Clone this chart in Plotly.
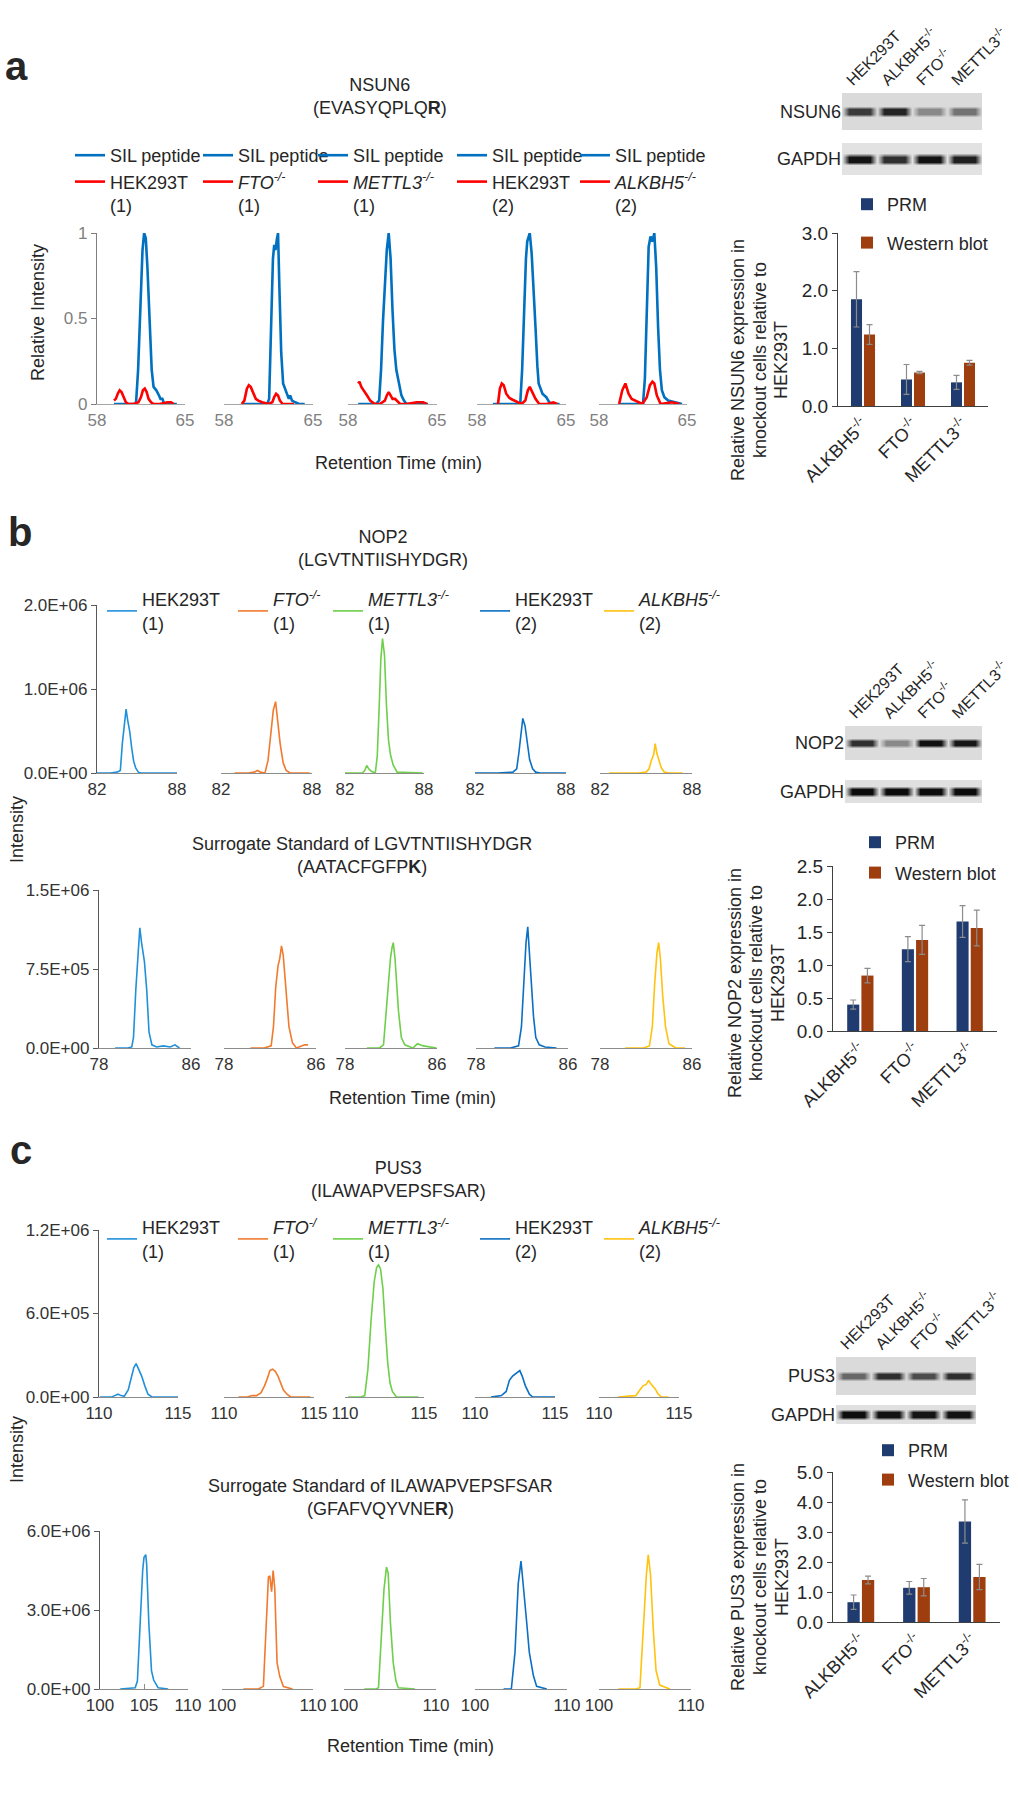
import plotly.graph_objects as go

W, H = 1018, 1800
FONT = "Liberation Sans, Arial, Helvetica, sans-serif"
TXT = "#262626"

# ------------------------------------------------------------------ data
# ---- panel a : NSUN6 (relative intensity), SIL peptide + endogenous
a_sil_rt_1 = [59.35, 60.5, 61.1, 61.27, 61.46, 61.62, 61.75, 61.88, 62.01, 62.2, 62.35, 62.5, 62.72, 62.93, 63.05, 63.2, 63.35, 63.6, 64.35]
a_sil_int_1 = [0, 0, 0, 0.2, 0.6, 0.9, 1.0, 0.97, 0.8, 0.45, 0.2, 0.1, 0.08, 0.05, 0.03, 0.03, 0.0, 0, 0]
a_smp_rt_1 = [59.35, 59.5, 59.65, 59.8, 59.95, 60.1, 60.3, 60.5, 60.9, 61.3, 61.5, 61.65, 61.8, 61.95, 62.1, 62.3, 62.5, 63.0, 63.6, 63.9, 64.1]
a_smp_int_1 = [0.02, 0.03, 0.06, 0.08, 0.07, 0.04, 0.01, 0.0, 0.0, 0.01, 0.04, 0.08, 0.09, 0.07, 0.03, 0.01, 0.0, 0.0, 0.01, 0.01, 0.0]

a_sil_rt_2 = [59.4, 60.5, 61.4, 61.55, 61.7, 61.85, 61.95, 62.05, 62.15, 62.25, 62.35, 62.5, 62.65, 62.85, 63.0, 63.1, 63.2, 63.35, 63.6, 63.9, 64.35]
a_sil_int_2 = [0, 0, 0, 0.03, 0.4, 0.85, 0.93, 0.9, 0.96, 1.0, 0.7, 0.3, 0.12, 0.08, 0.05, 0.03, 0.05, 0.02, 0.01, 0, 0]
a_smp_rt_2 = [59.4, 59.6, 59.8, 59.95, 60.1, 60.3, 60.5, 60.7, 61.0, 61.5, 61.8, 61.95, 62.1, 62.25, 62.4, 62.6, 63.0, 63.5]
a_smp_int_2 = [0.0, 0.02, 0.09, 0.11, 0.1, 0.06, 0.03, 0.02, 0.01, 0.0, 0.01, 0.04, 0.06, 0.05, 0.02, 0.0, 0.0, 0.0]

a_sil_rt_3 = [58.8, 59.5, 60.2, 60.45, 60.6, 60.75, 60.9, 61.05, 61.2, 61.35, 61.5, 61.65, 61.8, 62.0, 62.2, 62.4, 62.6, 63.0, 63.5, 64.3]
a_sil_int_3 = [0, 0, 0, 0.02, 0.2, 0.48, 0.72, 0.9, 1.0, 0.85, 0.55, 0.32, 0.2, 0.12, 0.05, 0.02, 0.0, 0, 0, 0]
a_smp_rt_3 = [58.8, 58.9, 59.05, 59.25, 59.5, 59.75, 60.1, 60.5, 60.9, 61.05, 61.2, 61.35, 61.5, 61.7, 62.1, 62.6, 63.4, 63.9, 64.2]
a_smp_int_3 = [0.12, 0.13, 0.1, 0.08, 0.05, 0.02, 0.0, 0.0, 0.02, 0.05, 0.07, 0.05, 0.03, 0.03, 0.0, 0.0, 0.01, 0.01, 0.0]

a_sil_rt_4 = [59.25, 60.5, 61.4, 61.55, 61.7, 61.85, 61.95, 62.05, 62.15, 62.3, 62.45, 62.6, 62.75, 62.85, 63.0, 63.15, 63.3, 63.45, 63.6, 63.8, 64.5]
a_sil_int_4 = [0, 0, 0, 0.2, 0.55, 0.85, 0.95, 0.98, 1.0, 0.88, 0.7, 0.45, 0.22, 0.12, 0.09, 0.06, 0.05, 0.04, 0.02, 0, 0]
a_smp_rt_4 = [59.65, 59.8, 59.95, 60.1, 60.3, 60.55, 60.8, 61.1, 61.5, 61.8, 62.0, 62.15, 62.35, 62.6, 62.9, 63.5, 64.0, 64.3]
a_smp_int_4 = [0, 0.09, 0.12, 0.11, 0.06, 0.035, 0.025, 0.015, 0.0, 0.02, 0.08, 0.1, 0.07, 0.03, 0.0, 0.0, 0.01, 0.0]

a_sil_rt_5 = [59.6, 60.5, 61.5, 61.65, 61.8, 61.95, 62.1, 62.25, 62.4, 62.55, 62.7, 62.85, 63.0, 63.2, 63.5, 64.0, 64.6]
a_sil_int_5 = [0, 0, 0, 0.15, 0.6, 0.92, 0.98, 0.95, 1.0, 0.8, 0.45, 0.2, 0.08, 0.04, 0.02, 0.01, 0]
a_smp_rt_5 = [59.6, 59.85, 60.1, 60.35, 60.6, 60.9, 61.45, 61.8, 62.05, 62.25, 62.4, 62.6, 62.9, 63.8, 64.4]
a_smp_int_5 = [0, 0.08, 0.12, 0.06, 0.03, 0.02, 0.0, 0.04, 0.11, 0.13, 0.12, 0.05, 0.0, 0.01, 0.0]

# ---- panel b : NOP2 target peptide (intensity)
b_tgt_rt_1 = [82.0, 83.0, 83.5, 83.75, 83.9, 84.05, 84.18, 84.3, 84.45, 84.6, 84.75, 84.9, 85.1, 85.3, 86.5, 88.0]
b_tgt_int_1 = [0, 0, 1e4, 3e4, 3.5e5, 6.2e5, 7.6e5, 6.3e5, 5.0e5, 3.0e5, 1.4e5, 6e4, 1e4, 0, 0, 0]
b_tgt_rt_2 = [82.9, 83.8, 84.2, 84.4, 84.6, 84.9, 85.1, 85.3, 85.45, 85.6, 85.75, 85.9, 86.1, 86.3, 86.55, 87.85]
b_tgt_int_2 = [0, 0, 1e4, 3e4, 1e4, 0, 1.5e5, 5.0e5, 7.5e5, 8.5e5, 5.8e5, 3.5e5, 1.2e5, 3e4, 0, 0]
b_tgt_rt_3 = [82.0, 83.3, 83.5, 83.65, 83.8, 84.0, 84.3, 84.45, 84.6, 84.72, 84.85, 85.0, 85.15, 85.3, 85.45, 85.65, 85.95, 86.5, 87.9]
b_tgt_int_3 = [0, 0, 3e4, 9e4, 5e4, 2e4, 0, 2e5, 8e5, 1.35e6, 1.6e6, 1.4e6, 8e5, 4e5, 2.2e5, 1e5, 1e4, 5e3, 0]
b_tgt_rt_4 = [82.0, 83.5, 84.5, 84.75, 84.9, 85.05, 85.15, 85.3, 85.45, 85.6, 85.8, 86.0, 86.3, 88.0]
b_tgt_int_4 = [0, 0, 1e4, 5e4, 2.5e5, 5.2e5, 6.5e5, 5.6e5, 3.5e5, 1.6e5, 5e4, 1e4, 0, 0]
b_tgt_rt_5 = [82.6, 84.5, 85.0, 85.2, 85.35, 85.5, 85.6, 85.7, 85.85, 86.0, 86.2, 86.5, 87.4]
b_tgt_int_5 = [0, 0, 1e4, 5e4, 1.5e5, 2.2e5, 3.5e5, 2.4e5, 1.5e5, 6e4, 1e4, 0, 0]

# ---- panel b : surrogate standard AATACFGFPK
b_std_rt_1 = [79.4, 80.5, 80.85, 81.0, 81.2, 81.4, 81.55, 81.7, 81.85, 81.95, 82.15, 82.35, 82.6, 83.0, 83.6, 84.2, 84.6, 85.0]
b_std_int_1 = [0, 0, 1e4, 1e5, 5.5e5, 9.3e5, 1.14e6, 1.0e6, 8.8e5, 8.2e5, 5.5e5, 1.5e5, 3e4, 1e4, 2e4, 1e4, 3e4, 0]
b_std_rt_2 = [80.3, 81.5, 82.1, 82.3, 82.5, 82.7, 82.85, 83.0, 83.15, 83.3, 83.45, 83.65, 83.95, 84.3, 84.75, 85.0, 85.3]
b_std_int_2 = [0, 0, 2e4, 2e5, 5.8e5, 7.8e5, 8.5e5, 9.7e5, 8.8e5, 7e5, 4.5e5, 2e5, 5e4, 0, 2e4, 3e4, 3e4]
b_std_rt_3 = [79.9, 81.0, 81.35, 81.55, 81.75, 81.95, 82.1, 82.2, 82.35, 82.5, 82.65, 82.9, 83.2, 83.9, 84.3, 84.8, 85.95]
b_std_int_3 = [0, 0, 3e4, 3e5, 6.5e5, 8.5e5, 9.6e5, 1.0e6, 8.5e5, 6e5, 3.5e5, 1e5, 3e4, 0, 4e4, 2e4, 0]
b_std_rt_4 = [79.6, 81.0, 81.7, 81.95, 82.15, 82.35, 82.5, 82.65, 82.8, 83.0, 83.2, 83.5, 84.0, 85.0]
b_std_int_4 = [0, 0, 2e4, 2e5, 6e5, 1.0e6, 1.15e6, 9e5, 6e5, 3e5, 1e5, 3e4, 1e4, 0]
b_std_rt_5 = [80.2, 81.8, 82.3, 82.55, 82.75, 82.95, 83.1, 83.25, 83.45, 83.7, 84.0, 84.6, 85.4]
b_std_int_5 = [0, 0, 2e4, 2e5, 6e5, 9e5, 1.0e6, 8.5e5, 5e5, 2e5, 4e4, 0, 0]

# ---- panel c : PUS3 target peptide
c_tgt_rt_1 = [110.05, 110.8, 111.0, 111.2, 111.4, 111.6, 111.85, 112.05, 112.2, 112.35, 112.5, 112.7, 112.9, 113.1, 113.35, 115.0]
c_tgt_int_1 = [0, 0, 1e4, 2e4, 1e4, 5e3, 5e4, 1.5e5, 2.1e5, 2.4e5, 2.0e5, 1.5e5, 8e4, 2e4, 0, 0]
c_tgt_rt_2 = [110.8, 111.3, 111.55, 111.8, 112.05, 112.25, 112.4, 112.55, 112.7, 112.85, 113.0, 113.15, 113.3, 113.5, 113.7, 114.8]
c_tgt_int_2 = [0, 0, 1e4, 1e4, 3e4, 8e4, 1.3e5, 1.9e5, 2.0e5, 1.85e5, 1.5e5, 1.0e5, 5e4, 2e4, 0, 0]
c_tgt_rt_3 = [110.2, 111.0, 111.25, 111.45, 111.65, 111.85, 112.0, 112.12, 112.25, 112.4, 112.55, 112.7, 112.85, 113.0, 113.25, 114.65]
c_tgt_int_3 = [0, 0, 1e4, 2e5, 5.5e5, 8.3e5, 9.3e5, 9.5e5, 9.2e5, 7.8e5, 5e5, 2.5e5, 1e5, 4e4, 0, 0]
c_tgt_rt_4 = [111.0, 111.65, 111.95, 112.15, 112.35, 112.55, 112.8, 112.95, 113.15, 113.4, 113.6, 115.0]
c_tgt_int_4 = [0, 1e4, 4e4, 1.2e5, 1.5e5, 1.7e5, 1.9e5, 1.5e5, 8e4, 2e4, 0, 0]
c_tgt_rt_5 = [111.2, 112.3, 112.55, 112.75, 112.95, 113.1, 113.2, 113.35, 113.5, 113.7, 113.9, 114.35]
c_tgt_int_5 = [0, 1e4, 5e4, 8e4, 9e4, 1.2e5, 1.0e5, 8e4, 6e4, 2e4, 0, 0]

# ---- panel c : surrogate standard GFAFVQYVNER
c_std_rt_1 = [102.3, 103.5, 104.0, 104.25, 104.55, 104.85, 105.0, 105.2, 105.3, 105.55, 105.85, 106.1, 106.6, 107.75]
c_std_int_1 = [0, 5e4, 5e4, 3e5, 2.5e6, 4.5e6, 5.0e6, 5.1e6, 4.75e6, 2.5e6, 7e5, 3.4e5, 5e4, 0]
c_std_rt_2 = [102.35, 104.0, 104.55, 104.9, 105.1, 105.25, 105.45, 105.62, 105.8, 106.05, 106.35, 106.75, 107.75]
c_std_int_2 = [0, 0, 1e5, 2.5e6, 4.25e6, 4.3e6, 3.7e6, 4.5e6, 3.8e6, 1.0e6, 4.7e5, 9e4, 0]
c_std_rt_3 = [102.2, 103.5, 103.75, 104.05, 104.35, 104.62, 104.8, 105.05, 105.35, 105.65, 105.9, 107.7]
c_std_int_3 = [0, 0, 5e4, 2.0e6, 3.8e6, 4.63e6, 4.4e6, 2.5e6, 1.0e6, 3e5, 5e4, 0]
c_std_rt_4 = [103.1, 103.95, 104.35, 104.7, 105.0, 105.25, 105.6, 105.9, 106.35, 106.7, 107.8]
c_std_int_4 = [0, 0, 1.4e6, 4.0e6, 4.86e6, 4.0e6, 2.6e6, 1.4e6, 5e5, 1e5, 0]
c_std_rt_5 = [102.1, 104.0, 104.45, 104.8, 105.15, 105.35, 105.6, 105.9, 106.2, 106.6, 107.7]
c_std_int_5 = [0, 0, 5e4, 2.25e6, 4.34e6, 5.1e6, 4.34e6, 2.25e6, 7e5, 1.5e5, 0]

# ---- sample labels
a_sample_names = ["HEK293T<br>(1)", "<i>FTO<sup>-/-</sup></i><br>(1)", "<i>METTL3<sup>-/-</sup></i><br>(1)",
                  "HEK293T<br>(2)", "<i>ALKBH5<sup>-/-</sup></i><br>(2)"]
b_sample_names = ["HEK293T<br>(1)", "<i>FTO<sup>-/-</sup></i><br>(1)", "<i>METTL3<sup>-/-</sup></i><br>(1)",
                  "HEK293T<br>(2)", "<i>ALKBH5<sup>-/-</sup></i><br>(2)"]
c_sample_names = ["HEK293T<br>(1)", "<i>FTO<sup>-/</sup></i><br>(1)", "<i>METTL3<sup>-/-</sup></i><br>(1)",
                  "HEK293T<br>(2)", "<i>ALKBH5<sup>-/-</sup></i><br>(2)"]

# ---- western blot lanes and relative band intensities (0 = no band, 1 = saturated)
lane_labels = ["HEK293T", "ALKBH5<sup>-/-</sup>", "FTO<sup>-/-</sup>", "METTL3<sup>-/-</sup>"]
lane_index = [0, 1, 2, 3]
nsun6_band = [0.80, 0.90, 0.45, 0.55]
gapdh_a_band = [0.97, 0.85, 0.98, 0.92]
nop2_band = [0.85, 0.45, 0.98, 0.95]
gapdh_b_band = [1.0, 1.0, 1.0, 1.0]
pus3_band = [0.6, 0.85, 0.72, 0.85]
gapdh_c_band = [1.0, 0.98, 0.97, 0.98]

# ---- bar charts (relative expression, knockout / HEK293T)
bar_categories = ["ALKBH5<sup>-/-</sup>", "FTO<sup>-/-</sup>", "METTL3<sup>-/-</sup>"]
nsun6_prm = [1.85, 0.46, 0.41]
nsun6_prm_err = [0.48, 0.26, 0.12]
nsun6_wb = [1.24, 0.58, 0.75]
nsun6_wb_err = [0.17, 0.02, 0.04]
nop2_prm = [0.40, 1.24, 1.66]
nop2_prm_err = [0.07, 0.19, 0.24]
nop2_wb = [0.84, 1.38, 1.56]
nop2_wb_err = [0.11, 0.22, 0.27]
pus3_prm = [0.66, 1.14, 3.35]
pus3_prm_err = [0.24, 0.21, 0.72]
pus3_wb = [1.40, 1.16, 1.50]
pus3_wb_err = [0.13, 0.29, 0.42]

# ------------------------------------------------------------------ helpers
def px(x):
    return x / W


def py(y):
    return 1 - y / H


fig = go.Figure()
layout = {}
annotations = []
counter = {"ax": 0, "lg": 0}


def new_axis():
    counter["ax"] += 1
    n = counter["ax"]
    return "" if n == 1 else str(n)


def new_legend(**kw):
    counter["lg"] += 1
    n = counter["lg"]
    name = "legend" if n == 1 else f"legend{n}"
    base = dict(bgcolor="rgba(0,0,0,0)", borderwidth=0, xanchor="left", yanchor="top",
                font=dict(family=FONT, size=18, color=TXT), itemwidth=30, tracegroupgap=0)
    base.update(kw)
    layout[name] = base
    return name


def ann(text, x, y, size=18, xanchor="center", yanchor="middle", angle=0, color=TXT):
    annotations.append(dict(text=text, x=px(x), y=py(y), xref="paper", yref="paper",
                            xanchor=xanchor, yanchor=yanchor, showarrow=False, textangle=angle,
                            font=dict(family=FONT, size=size, color=color)))


def chrom_axes(xdom, ydom, xr, yr, xticks, yticks, yticktext, show_y, tick_col, line_col, yline_col):
    s = new_axis()
    layout[f"xaxis{s}"] = dict(domain=[px(xdom[0]), px(xdom[1])], range=xr, anchor=f"y{s}",
                              showline=True, linecolor=line_col, linewidth=1.3, ticks="inside",
                              ticklen=5, tickcolor=line_col, tickvals=xticks, showgrid=False,
                              zeroline=False, tickfont=dict(family=FONT, size=17, color=tick_col),
                              fixedrange=True, automargin=False)
    ydict = dict(domain=[py(ydom[1]), py(ydom[0])], range=yr, anchor=f"x{s}", showgrid=False,
                 zeroline=False, fixedrange=True, automargin=False)
    if show_y:
        ydict.update(showline=True, linecolor=yline_col, linewidth=1.3, ticks="outside", ticklen=5,
                     tickcolor=yline_col, tickvals=yticks, ticktext=yticktext,
                     tickfont=dict(family=FONT, size=17, color=tick_col))
    else:
        ydict.update(visible=False)
    layout[f"yaxis{s}"] = ydict
    return s


def line_trace(s, x, y, color, width, name=None, legend=None):
    fig.add_trace(go.Scatter(x=x, y=y, mode="lines", line=dict(color=color, width=width),
                             xaxis=f"x{s}", yaxis=f"y{s}", name=name or "",
                             showlegend=legend is not None, legend=legend or "legend",
                             hoverinfo="skip"))


# ------------------------------------------------------------------ colours
BLUE_A = "#0070C0"
RED_A = "#FF0000"
HEK1 = "#2190DA"
HEK2 = "#0B70C4"
ORANGE = "#F07A2E"
GREEN = "#6ECF4A"
YELLOW = "#FFC20E"
PRM_C = "#1F3B70"
WB_C = "#9E3D0E"
GRAY_TICK = "#808080"

# ------------------------------------------------------------------ panel a chromatograms
A_DOMS = [(97, 185), (224, 313), (348, 437), (477, 566), (599, 687)]
A_Y = (233, 404)
A_LEG_X = [70, 198, 313, 452, 575]
a_sil = [(a_sil_rt_1, a_sil_int_1), (a_sil_rt_2, a_sil_int_2), (a_sil_rt_3, a_sil_int_3),
         (a_sil_rt_4, a_sil_int_4), (a_sil_rt_5, a_sil_int_5)]
a_smp = [(a_smp_rt_1, a_smp_int_1), (a_smp_rt_2, a_smp_int_2), (a_smp_rt_3, a_smp_int_3),
         (a_smp_rt_4, a_smp_int_4), (a_smp_rt_5, a_smp_int_5)]
for k in range(5):
    s = chrom_axes(A_DOMS[k], A_Y, [58, 65], [0, 1], [58, 65], [0, 0.5, 1], ["0", "0.5", "1"],
                   k == 0, GRAY_TICK, "#a6a6a6", "#7f7f7f")
    lg = new_legend(x=px(A_LEG_X[k]), y=py(137), valign="top")
    line_trace(s, a_sil[k][0], a_sil[k][1], BLUE_A, 2.6, "SIL peptide", lg)
    line_trace(s, a_smp[k][0], a_smp[k][1], RED_A, 2.6, a_sample_names[k], lg)

# ------------------------------------------------------------------ panel b / c chromatograms
BC_COLORS = [HEK1, ORANGE, GREEN, HEK2, YELLOW]
BC_LEG_X = [102, 233, 328, 475, 599]

B1_DOMS = [(97, 177), (221, 312), (345, 424), (475, 566), (600, 692)]
B2_DOMS = [(99, 191), (224, 316), (345, 437), (476, 568), (600, 692)]
C1_DOMS = [(99, 178), (224, 314), (345, 424), (475, 555), (599, 679)]
C2_DOMS = [(100, 188), (222, 313), (344, 436), (475, 567), (599, 691)]

b_tgt = [(b_tgt_rt_1, b_tgt_int_1), (b_tgt_rt_2, b_tgt_int_2), (b_tgt_rt_3, b_tgt_int_3),
         (b_tgt_rt_4, b_tgt_int_4), (b_tgt_rt_5, b_tgt_int_5)]
b_std = [(b_std_rt_1, b_std_int_1), (b_std_rt_2, b_std_int_2), (b_std_rt_3, b_std_int_3),
         (b_std_rt_4, b_std_int_4), (b_std_rt_5, b_std_int_5)]
c_tgt = [(c_tgt_rt_1, c_tgt_int_1), (c_tgt_rt_2, c_tgt_int_2), (c_tgt_rt_3, c_tgt_int_3),
         (c_tgt_rt_4, c_tgt_int_4), (c_tgt_rt_5, c_tgt_int_5)]
c_std = [(c_std_rt_1, c_std_int_1), (c_std_rt_2, c_std_int_2), (c_std_rt_3, c_std_int_3),
         (c_std_rt_4, c_std_int_4), (c_std_rt_5, c_std_int_5)]

rows = [
    dict(doms=B1_DOMS, ydom=(605, 773), xr=[82, 88], xt=[[82, 88]] * 5, yr=[0, 2.0e6],
         yt=[0, 1.0e6, 2.0e6], ytt=["0.0E+00", "1.0E+06", "2.0E+06"], data=b_tgt,
         names=b_sample_names, leg_top=581),
    dict(doms=B2_DOMS, ydom=(890, 1048), xr=[78, 86], xt=[[78, 86]] * 5, yr=[0, 1.5e6],
         yt=[0, 7.5e5, 1.5e6], ytt=["0.0E+00", "7.5E+05", "1.5E+06"], data=b_std,
         names=None, leg_top=None),
    dict(doms=C1_DOMS, ydom=(1230, 1397), xr=[110, 115], xt=[[110, 115]] * 5, yr=[0, 1.2e6],
         yt=[0, 6.0e5, 1.2e6], ytt=["0.0E+00", "6.0E+05", "1.2E+06"], data=c_tgt,
         names=c_sample_names, leg_top=1209),
    dict(doms=C2_DOMS, ydom=(1531, 1689), xr=[100, 110],
         xt=[[100, 105, 110]] + [[100, 110]] * 4, yr=[0, 6.0e6],
         yt=[0, 3.0e6, 6.0e6], ytt=["0.0E+00", "3.0E+06", "6.0E+06"], data=c_std,
         names=None, leg_top=None),
]
for r in rows:
    for k in range(5):
        s = chrom_axes(r["doms"][k], r["ydom"], r["xr"], r["yr"], r["xt"][k], r["yt"], r["ytt"],
                       k == 0, "#333333", "#8c8c8c", "#595959")
        lg = None
        if r["names"] is not None:
            lg = new_legend(x=px(BC_LEG_X[k]), y=py(r["leg_top"]), valign="middle")
        line_trace(s, r["data"][k][0], r["data"][k][1], BC_COLORS[k], 1.6,
                   r["names"][k] if r["names"] else None, lg)

# ------------------------------------------------------------------ western blots
BLOT_SCALE = [[0.0, "#e6e6e6"], [0.35, "#a0a0a0"], [1.0, "#0d0d0d"]]
LANE_LABEL_SHIFT = 0.35   # lane labels start slightly left of the lane centre


def blot(vals, bg, xdom, ydom, half, label, top_labels):
    s = new_axis()
    xs, row = [], []
    for i, v in zip(lane_index, vals):
        xs += [i - 0.5, i - 0.3, i + 0.3]
        row += [bg, v, v]
    xs.append(lane_index[-1] + 0.5)
    row.append(bg)
    ys = [-3.0, -0.6, -0.25, 0.25, 0.6, 3.0]
    bgrow = [bg] * len(row)
    z = [bgrow, bgrow, row, row, bgrow, bgrow]
    fig.add_trace(go.Heatmap(x=xs, y=ys, z=z, zmin=0, zmax=1, colorscale=BLOT_SCALE,
                             showscale=False, zsmooth="best", hoverinfo="skip",
                             xaxis=f"x{s}", yaxis=f"y{s}"))
    xd = dict(domain=[px(xdom[0]), px(xdom[1])], range=[-0.5, 3.5], anchor=f"y{s}",
              showgrid=False, zeroline=False, showline=False, fixedrange=True, automargin=False)
    if top_labels:
        xd.update(side="top", tickvals=[i - LANE_LABEL_SHIFT for i in lane_index],
                  ticktext=lane_labels, tickangle=-45, ticks="", ticklabeloverflow="allow",
                  tickfont=dict(family=FONT, size=16, color=TXT))
    else:
        xd.update(showticklabels=False, ticks="")
    layout[f"xaxis{s}"] = xd
    layout[f"yaxis{s}"] = dict(domain=[py(ydom[1]), py(ydom[0])], range=[-half, half],
                              anchor=f"x{s}", showgrid=False, zeroline=False, showline=False,
                              tickvals=[0], ticktext=[label], ticks="", automargin=False,
                              tickfont=dict(family=FONT, size=18, color=TXT), fixedrange=True)


blot(nsun6_band, 0.06, (842, 982), (93, 130), 2.0, "NSUN6", True)
blot(gapdh_a_band, 0.02, (842, 982), (143, 175), 1.6, "GAPDH", False)
blot(nop2_band, 0.05, (845, 982), (726, 760), 2.0, "NOP2", True)
blot(gapdh_b_band, 0.03, (845, 982), (780, 803), 1.2, "GAPDH", False)
blot(pus3_band, 0.06, (836, 976), (1357, 1395), 2.2, "PUS3", True)
blot(gapdh_c_band, 0.03, (836, 976), (1405, 1424), 1.0, "GAPDH", False)


# ------------------------------------------------------------------ bar charts
def bar_chart(prm, prm_err, wb, wb_err, xdom, ydom, yr, dtick, leg_x, leg_top, gap, title_lines,
              title_x, title_y):
    s = new_axis()
    lg = new_legend(x=px(leg_x), y=py(leg_top), valign="middle", tracegroupgap=gap)
    err_style = dict(type="data", color="#8c8c8c", thickness=1.2, width=3)
    fig.add_trace(go.Bar(x=bar_categories, y=prm, error_y=dict(array=prm_err, **err_style),
                         marker=dict(color=PRM_C, line=dict(width=0)), name="PRM",
                         legend=lg, legendgroup=f"prm{s}", xaxis=f"x{s}", yaxis=f"y{s}",
                         hoverinfo="skip"))
    fig.add_trace(go.Bar(x=bar_categories, y=wb, error_y=dict(array=wb_err, **err_style),
                         marker=dict(color=WB_C, line=dict(width=0)), name="Western blot",
                         legend=lg, legendgroup=f"wb{s}", xaxis=f"x{s}", yaxis=f"y{s}",
                         hoverinfo="skip"))
    layout[f"xaxis{s}"] = dict(domain=[px(xdom[0]), px(xdom[1])], anchor=f"y{s}", type="category",
                              showline=True, linecolor="#404040", linewidth=1.3, ticks="",
                              tickangle=-45, showgrid=False, fixedrange=True, automargin=False,
                              tickfont=dict(family=FONT, size=18, color=TXT))
    layout[f"yaxis{s}"] = dict(domain=[py(ydom[1]), py(ydom[0])], range=yr, anchor=f"x{s}",
                              dtick=dtick, tickformat=".1f", showline=True, linecolor="#404040",
                              linewidth=1.3, ticks="outside", ticklen=5, tickcolor="#404040",
                              showgrid=False, zeroline=False, fixedrange=True, automargin=False,
                              tickfont=dict(family=FONT, size=19, color=TXT))
    for t, xx in zip(title_lines, title_x):
        ann(t, xx, title_y, size=18, angle=-90)


bar_chart(nsun6_prm, nsun6_prm_err, nsun6_wb, nsun6_wb_err, (838, 988), (233, 406), [0, 3], 1,
          847, 186, 12,
          ["Relative NSUN6 expression in", "knockout cells relative to", "HEK293T"],
          [738, 760, 781], 360)
bar_chart(nop2_prm, nop2_prm_err, nop2_wb, nop2_wb_err, (833, 997), (866, 1031), [0, 2.5], 0.5,
          855, 824, 4,
          ["Relative NOP2 expression in", "knockout cells relative to", "HEK293T"],
          [735, 756, 778], 983)
bar_chart(pus3_prm, pus3_prm_err, pus3_wb, pus3_wb_err, (833, 1000), (1472, 1622), [0, 5], 1,
          868, 1432, 3,
          ["Relative PUS3 expression in", "knockout cells relative to", "HEK293T"],
          [738, 760, 782], 1577)

# ------------------------------------------------------------------ text
ann("<b>a</b>", 3, 66, size=40, xanchor="left")
ann("<b>b</b>", 6, 532, size=40, xanchor="left")
ann("<b>c</b>", 8, 1150, size=40, xanchor="left")

ann("NSUN6<br>(EVASYQPLQ<b>R</b>)", 380, 96)
ann("NOP2<br>(LGVTNTIISHYDGR)", 383, 548)
ann("Surrogate Standard of LGVTNTIISHYDGR<br>(AATACFGFP<b>K</b>)", 362, 856)
ann("PUS3<br>(ILAWAPVEPSFSAR)", 398, 1179)
ann("Surrogate Standard of ILAWAPVEPSFSAR<br>(GFAFVQYVNE<b>R</b>)", 380, 1497)

ann("Retention Time (min)", 398, 463)
ann("Retention Time (min)", 412, 1098)
ann("Retention Time (min)", 410, 1746)

ann("Relative Intensity", 38, 313, angle=-90)
ann("Intensity", 17, 830, angle=-90)
ann("Intensity", 17, 1450, angle=-90)

fig.update_layout(
    width=W, height=H, autosize=False,
    margin=dict(l=0, r=0, t=0, b=0, pad=0, autoexpand=False),
    paper_bgcolor="white", plot_bgcolor="rgba(0,0,0,0)",
    font=dict(family=FONT, color=TXT),
    barmode="group", bargap=0.48, bargroupgap=0.15,
    annotations=annotations,
    **layout,
)

fig.write_html("out.html", config={"displayModeBar": False},
               post_script="document.body.style.margin='0px';")
